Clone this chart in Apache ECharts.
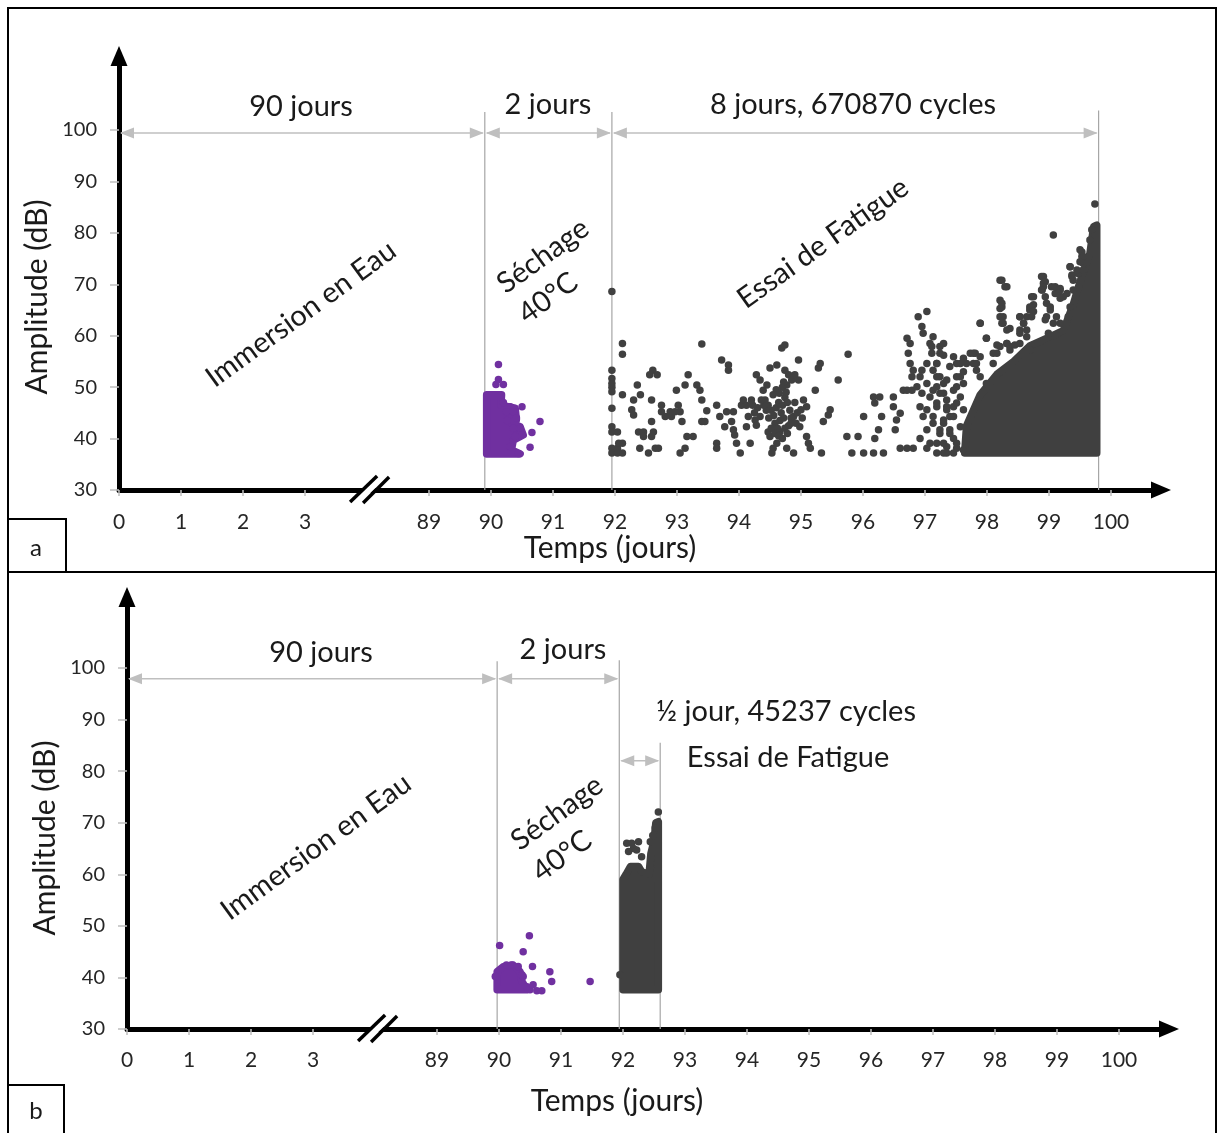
<!DOCTYPE html>
<html><head><meta charset="utf-8">
<script src="https://cdn.jsdelivr.net/npm/echarts@6/dist/echarts.min.js"></script>
<style>html,body{margin:0;padding:0;background:#fff}#c{width:1217px;height:1133px}</style>
</head><body><div id="c"></div>
<script>
// ---------- data ----------
const xTickDays = [0,1,2,3,89,90,91,92,93,94,95,96,97,98,99,100];
const yTicks = [30,40,50,60,70,80,90,100];

const aPhaseEnds = [89.9, 91.95, 99.8];
const aPhaseLabels = ['90 jours', '2 jours', '8 jours, 670870 cycles'];
const bPhaseEnds = [89.97, 91.94, 92.6];
const bPhaseLabels = ['90 jours', '2 jours', '½ jour, 45237 cycles'];

// panel a — drying (purple)
const aPurplePts = [[90.12,54.4],[90.12,51.5],[90.08,50.5],[90.2,50.5],[90.5,46.2],[90.31,46.2],[90.25,45.2],[90.36,45.2],[90.79,43.3],[90.47,42.0],[90.36,42.0],[90.66,41.2],[90.63,38.3],[90.44,37.1],[90.39,40.4],[90.31,38.4],[90.41,44.0],[90.26,43.5],[90.2,47.0]];
const aPurpleCore = [[89.93,37.0],[89.93,48.5],[90.17,48.5],[90.16,46.5],[90.39,45.9],[90.41,43.6],[90.31,43.1],[90.47,42.3],[90.52,40.7],[90.36,39.7],[90.33,37.8],[90.47,37.0]];

// panel a — fatigue (dark)
const aBlackPts = [
[91.95,68.6],[91.95,53.3],[91.95,51.7],[91.95,50.7],[91.95,50.0],[91.95,49.1],[91.95,45.9],[91.95,42.3],[91.95,41.3],[91.95,38.1],[91.95,37.2],
[92.04,41.3],[92.04,38.1],[92.04,37.2],[92.06,39.1],
[92.12,58.5],[92.12,56.4],[92.12,48.5],[92.12,39.1],[92.12,37.2],
[92.30,47.5],[92.36,50.4],[92.41,48.5],[92.27,45.6],[92.30,44.6],[92.38,41.3],[92.46,41.3],[92.40,38.1],[92.54,37.2],[92.46,40.4],[92.59,40.4],[92.62,41.3],[92.59,43.3],[92.59,47.5],[92.56,52.4],[92.61,53.3],[92.68,52.4],[92.70,38.1],[92.65,38.1],
[92.75,46.5],[92.75,45.2],[92.81,44.3],[92.89,45.2],[92.91,44.3],[92.97,45.2],[93.02,46.5],[93.05,45.2],[93.08,43.3],[92.99,49.4],[93.13,50.4],[93.18,52.4],[93.16,40.4],[93.26,40.4],[93.13,38.1],[93.05,37.2],[93.32,50.4],[93.37,49.4],[93.40,47.5],[93.40,58.4],[93.48,45.4],[93.40,43.3],[93.45,43.3],
[93.64,46.5],[93.64,39.1],[93.64,38.1],[93.72,55.3],[93.83,54.3],[93.83,53.3],[93.69,44.3],[93.80,45.2],[93.77,42.3],[93.88,43.3],[93.91,41.7],[93.93,40.7],[93.96,39.1],[94.02,37.2],[93.91,45.2],[94.04,46.5],[94.07,47.5],[94.12,46.5],[94.15,44.3],[94.12,42.3],[94.18,39.1],
[94.28,52.4],[94.34,51.4],[94.39,49.4],[94.45,50.4],[94.26,43.6],[94.28,42.6],[94.34,44.3],[94.50,53.7],[94.61,54.3],[94.69,57.6],[94.74,58.2],[94.74,53.3],[94.80,52.4],[94.85,51.4],[94.77,50.4],[94.96,55.3],[94.96,51.4],[94.90,52.4],[94.88,44.3],[94.98,42.3],[95.04,47.5],[95.09,46.2],[95.09,40.4],[95.12,39.1],[95.15,38.1],[95.23,49.4],[95.28,53.7],[95.31,54.6],[95.33,37.2],[95.36,43.3],[95.44,44.6],[95.47,45.6],[95.60,51.4],[95.74,40.4],[95.76,56.4],[95.82,37.2],[95.92,40.4],
[94.50,40.4],[94.55,38.1],[94.53,37.2],[94.61,39.1],[94.77,38.1],[94.88,37.2],[94.47,41.3],[94.66,41.3],
[94.42,47.5],[94.47,46.5],[94.52,45.5],[94.56,44.5],[94.60,46.0],[94.64,47.0],[94.68,45.0],[94.72,44.0],[94.58,43.0],[94.62,42.0],[94.66,43.5],[94.70,46.5],[94.74,48.0],[94.78,47.0],[94.82,45.5],[94.84,44.0],[94.80,42.5],[94.55,48.5],[94.60,49.5],[94.65,48.8],[94.70,50.0],[94.72,51.0],[94.76,49.0],[94.48,44.0],[94.44,45.5],[94.40,46.5],[94.36,47.5],[94.30,46.0],[94.22,46.5],[94.20,47.5],[94.25,45.0],[94.52,42.0],[94.58,41.0],[94.64,40.5],[94.70,40.0],[94.74,42.0],[94.78,41.0],[94.84,43.0],[94.90,47.0],[94.94,45.0],[94.92,43.0],[95.00,45.6],[95.02,44.0],
[96.01,44.3],[96.17,48.1],[96.27,48.1],[96.19,46.9],[96.30,44.3],[96.19,40.0],[96.25,41.7],[96.01,37.2],[96.17,37.2],[96.33,37.2],[96.49,48.1],[96.49,46.2],[96.60,44.9],[96.54,43.6],[96.52,41.7],[96.60,38.1],[96.71,38.1],[96.81,38.1],[96.65,49.4],[96.71,59.5],[96.76,58.5],[96.73,56.6],[96.76,54.6],[96.81,53.3],[96.79,52.0],[96.71,49.4],[96.79,49.4],[96.87,50.1],[96.92,52.0],[96.95,53.3],[96.89,63.7],[97.03,64.7],[96.95,61.8],[96.97,60.5],[97.08,58.5],[97.11,56.6],[97.24,57.9],[97.30,56.2],[97.03,54.6],[97.19,54.6],[97.13,53.3],[97.24,52.0],[97.03,50.7],[97.19,50.1],[97.30,50.7],[96.95,48.8],[97.08,48.1],[97.24,48.8],[97.35,47.5],[96.92,46.2],[97.03,45.6],[97.19,46.2],[97.35,45.6],[97.46,46.2],[96.97,44.3],[97.13,43.0],[97.30,43.0],[97.40,44.3],[97.03,41.7],[97.24,41.0],[97.40,41.7],[96.92,40.0],[97.08,39.1],[97.30,39.1],[97.46,40.0],[97.03,38.1],[97.19,37.2],[97.35,37.2],[97.51,38.1],[97.51,50.1],[97.57,52.0],[97.57,54.6],[97.62,55.6],[97.73,56.6],[97.78,54.6],[97.81,56.6],[97.89,62.4],[97.99,59.5],[97.83,53.3],[97.89,52.0],[97.99,50.7],[98.10,54.6],[98.16,56.6],[98.21,57.9],[98.32,58.5],[98.37,57.9],[98.21,66.9],[98.24,65.6],[98.21,63.7],[98.26,62.4],[98.32,61.1],[98.21,70.8],[98.29,69.5],[98.53,63.7],[98.59,62.4],[98.53,61.1],[98.64,63.7],[98.69,65.0],[98.72,67.6],[98.75,66.0],[98.88,71.5],[98.91,70.2],[98.88,68.9],[98.94,67.6],[99.04,69.5],[99.10,68.2],[99.18,68.9],[99.23,67.6],[99.07,79.6],[99.02,65.6],[98.96,63.7],[99.12,63.7],[99.18,62.4],[99.34,73.4],[99.37,71.8],[99.39,70.8],[99.50,76.7],[99.53,75.4],[99.55,74.1],[99.47,72.1],[99.66,78.6],[99.69,80.6],[99.74,85.6],
[99.53,76.3],[99.55,75.4],[99.50,74.4],[99.34,73.4],[99.45,72.8],[99.37,71.5],[99.55,72.8],
[98.91,71.5],[98.94,70.5],[98.91,69.5],[98.89,68.9],[99.10,69.5],[99.18,69.2],[99.15,68.2],[99.18,67.3],
[98.75,67.6],[98.69,65.6],[98.75,64.7],[98.72,63.7],[98.24,70.8],[98.32,69.5],
[98.24,66.3],[98.21,65.3],[98.26,63.7],[98.24,62.4],[98.37,61.4],[97.89,62.4],[97.99,59.5],
[98.53,63.7],[98.59,62.4],[98.64,61.1],[98.53,60.5],
[98.96,66.3],[99.02,65.0],[98.94,63.1],[99.07,62.4],[98.99,60.5],
[99.29,68.2],[99.34,65.6],[99.31,63.7],[99.39,68.9],
[97.78,56.6],[97.83,54.6],[97.67,54.6],[97.62,53.0],[97.89,55.9],[98.10,56.6],[98.16,58.2],[98.32,58.5],[98.37,57.2],[98.45,58.2],[98.53,58.5],[98.64,59.8],[98.69,57.2],
[97.30,58.5],[97.13,59.8],[97.11,57.9],[97.24,56.6],[97.46,55.9],[97.51,54.6],[97.40,54.0],[97.19,54.6],
[97.19,52.0],[97.35,51.4],[97.51,52.0],[97.62,50.7],[97.13,49.4],[97.30,48.8],[97.46,49.4],[97.57,48.1],[97.19,46.9],[97.35,46.2],[97.51,46.9],[97.13,44.3],[97.30,43.6],[97.46,44.3],[97.62,45.6],[97.24,41.7],[97.40,41.0],[97.57,42.3],[97.19,39.1],[97.35,38.4],[97.51,39.1],[97.30,37.2],[97.46,37.2],[97.62,37.8]
];
const aBlackCore = [[97.64,37.2],[97.67,42.5],[97.89,48.5],[98.16,52.5],[98.43,55.0],[98.69,58.0],[98.96,59.5],[99.23,61.0],[99.39,66.0],[99.50,70.5],[99.66,76.0],[99.72,81.2],[99.77,81.5],[99.77,37.2]];

// panel b
const bPurplePts = [[90.49,48.1],[90.01,46.2],[90.39,45.0],[90.54,42.1],[90.82,41.1],[90.85,39.2],[90.39,40.2],[91.47,39.2],[90.31,42.1],[90.12,42.4],[90.2,42.4],[89.94,40.2],[90.5,37.6],[90.61,37.4],[90.69,37.4],[90.37,40.5],[90.45,38.2],[90.55,38.6]];
const bPurpleCore = [[89.97,37.6],[89.97,41.1],[90.07,42.1],[90.23,42.4],[90.34,41.1],[90.37,39.2],[90.45,37.6]];
const bBlackPts = [[92.57,72.1],[92.06,66.0],[92.17,65.0],[92.25,66.3],[92.22,64.7],[92.44,66.3],[92.09,64.4],[92.14,66.0],[92.30,63.4],[91.95,40.5],[92.48,67.5],[92.52,69.0]];
const bBlackCore = [[92.0,37.6],[92.0,59.0],[92.05,60.0],[92.12,61.5],[92.25,61.5],[92.30,60.5],[92.42,60.0],[92.45,64.0],[92.50,66.5],[92.53,70.0],[92.57,70.2],[92.57,37.6]];

// ---------- helpers ----------
const FONT = 'Lato';
const PURPLE = '#7030a0', DARK = '#404040', GREY = '#bfbfbf', VGREY = '#a6a6a6';
function dayPos(d) { return d <= 3.5 ? d : d - 84; }   // broken time axis
const BREAK_POS = 4.05;
const xTickPos = xTickDays.map(dayPos);
function xLabel(v) {
  const i = xTickPos.findIndex(p => Math.abs(p - v) < 1e-6);
  return i < 0 ? '' : String(xTickDays[i]);
}
const toPos = pts => pts.map(p => [dayPos(p[0]), p[1]]);

function makeX(gi, margin) {
  return {
    type: 'value', gridIndex: gi, min: 0, max: 1042 / 62,
    axisLine: { show: true, onZero: false, lineStyle: { color: '#000', width: 5 }, symbol: ['none', 'triangle'], symbolSize: [17, 20] },
    axisTick: { show: true, customValues: xTickPos, length: 6, lineStyle: { color: GREY, width: 1.5 } },
    axisLabel: { customValues: xTickPos, formatter: xLabel, margin: margin, fontSize: 21, fontFamily: FONT, color: '#262626' },
    splitLine: { show: false }
  };
}
function makeY(gi, max) {
  return {
    type: 'value', gridIndex: gi, min: 30, max: max,
    axisLine: { show: true, onZero: false, lineStyle: { color: '#000', width: 5 }, symbol: ['none', 'triangle'], symbolSize: [17, 20] },
    axisTick: { show: true, customValues: yTicks, length: 9, lineStyle: { color: GREY, width: 1.5 } },
    axisLabel: { customValues: yTicks, margin: 22, fontSize: 20, fontFamily: FONT, color: '#262626' },
    splitLine: { show: false }
  };
}
function scatter(pts, color, gi) {
  return { type: 'scatter', xAxisIndex: gi, yAxisIndex: gi, data: toPos(pts), symbolSize: 7.5,
    itemStyle: { color: color, opacity: 1 }, silent: true, z: 3 };
}
function core(pts, color, gi) {
  return { type: 'custom', xAxisIndex: gi, yAxisIndex: gi, clip: false, silent: true, z: 3,
    data: [toPos(pts)[0]],
    renderItem: function (params, api) {
      return { type: 'polygon', shape: { points: toPos(pts).map(p => api.coord(p)) },
        style: { fill: color, stroke: color, lineWidth: 7.5, lineJoin: 'round' } };
    } };
}

const chart = echarts.init(document.getElementById('c'), null, { renderer: 'canvas' });
chart.setOption({
  animation: false,
  backgroundColor: '#fff',
  grid: [
    { left: 119, top: 56, width: 1042, height: 434 },
    { left: 127, top: 597, width: 1042, height: 432 }
  ],
  xAxis: [makeX(0, 22), makeX(1, 21)],
  yAxis: [makeY(0, 30 + 434 / (360 / 70)), makeY(1, 30 + 432 / (361 / 70))],
  series: [
    core(aPurpleCore, PURPLE, 0), scatter(aPurplePts, PURPLE, 0),
    core(aBlackCore, DARK, 0), scatter(aBlackPts, DARK, 0),
    core(bPurpleCore, PURPLE, 1), scatter(bPurplePts, PURPLE, 1),
    core(bBlackCore, DARK, 1), scatter(bBlackPts, DARK, 1)
  ]
});

// ---------- annotations ----------
const G = [];
const px = (gi, d, a) => chart.convertToPixel({ gridIndex: gi }, [dayPos(d), a]);
function vline(gi, d, top) {
  const p1 = px(gi, d, top), p2 = px(gi, d, 30);
  G.push({ type: 'line', z: 1, shape: { x1: p1[0], y1: p1[1], x2: p2[0], y2: p2[1] }, style: { stroke: VGREY, lineWidth: 1.2 } });
}
function darrow(gi, d1, d2, amp) {
  const a = px(gi, d1, amp), b = px(gi, d2, amp);
  const L = 14, W = 5.5;
  G.push({ type: 'line', z: 1, shape: { x1: a[0] + 2, y1: a[1], x2: b[0] - 2, y2: b[1] }, style: { stroke: GREY, lineWidth: 1.5 } });
  G.push({ type: 'polygon', z: 1, shape: { points: [[a[0] + 1, a[1]], [a[0] + 1 + L, a[1] - W], [a[0] + 1 + L, a[1] + W]] }, style: { fill: GREY } });
  G.push({ type: 'polygon', z: 1, shape: { points: [[b[0] - 1, b[1]], [b[0] - 1 - L, b[1] - W], [b[0] - 1 - L, b[1] + W]] }, style: { fill: GREY } });
}
function txt(x, y, s, size, rotDeg) {
  G.push({ type: 'text', z: 5, x: x, y: y, rotation: (rotDeg || 0) * Math.PI / 180,
    style: { text: s, font: size + 'px ' + FONT, fill: '#1a1a1a', textAlign: 'center', textVerticalAlign: 'middle' } });
}
function brk(gi) {
  const c = chart.convertToPixel({ gridIndex: gi }, [BREAK_POS, 30]);
  const x = c[0], y = c[1];
  G.push({ type: 'polygon', z: 50, shape: { points: [[x - 16, y + 8], [x + 6, y - 12], [x + 16, y - 12], [x - 5, y + 8]] }, style: { fill: '#fff' } });
  G.push({ type: 'line', z: 51, shape: { x1: x - 20, y1: y + 12, x2: x + 7, y2: y - 14 }, style: { stroke: '#000', lineWidth: 3.5 } });
  G.push({ type: 'line', z: 51, shape: { x1: x - 7, y1: y + 13, x2: x + 19, y2: y - 13 }, style: { stroke: '#000', lineWidth: 3.5 } });
}

// panel a
[103.5, 103.5, 103.8].forEach((t, i) => vline(0, aPhaseEnds[i], t));
darrow(0, 0, aPhaseEnds[0], 99.4);
darrow(0, aPhaseEnds[0], aPhaseEnds[1], 99.4);
darrow(0, aPhaseEnds[1], aPhaseEnds[2], 99.4);
txt(301, 107, aPhaseLabels[0], 29);
txt(548, 105, aPhaseLabels[1], 29);
txt(853, 105, aPhaseLabels[2], 29);
txt(301, 314, 'Immersion en Eau', 29, 36);
txt(543, 256, 'Séchage', 29, 36);
txt(548, 298, '40°C', 29, 36);
txt(823, 243, 'Essai de Fatigue', 29, 35.5);
txt(37, 297, 'Amplitude (dB)', 30, 90);
txt(610, 548, 'Temps (jours)', 30);
brk(0);

// panel b
[101.3, 101.5, 85.5].forEach((t, i) => vline(1, bPhaseEnds[i], t));
darrow(1, 0, bPhaseEnds[0], 97.9);
darrow(1, bPhaseEnds[0], bPhaseEnds[1], 97.9);
darrow(1, bPhaseEnds[1], bPhaseEnds[2], 82.0);
txt(321, 653, bPhaseLabels[0], 29);
txt(563, 650, bPhaseLabels[1], 29);
txt(786, 712, bPhaseLabels[2], 29);
txt(788, 758, 'Essai de Fatigue', 29);
txt(316, 847, 'Immersion en Eau', 29, 36);
txt(557, 813, 'Séchage', 29, 36);
txt(562, 856, '40°C', 29, 36);
txt(45, 838, 'Amplitude (dB)', 30, 90);
txt(617, 1101, 'Temps (jours)', 30);
brk(1);

// frame and panel tags
G.push({ type: 'rect', z: 60, shape: { x: 8, y: 8, width: 1208, height: 1140 }, style: { fill: 'none', stroke: '#000', lineWidth: 2 } });
G.push({ type: 'line', z: 60, shape: { x1: 8, y1: 572, x2: 1216, y2: 572 }, style: { stroke: '#000', lineWidth: 2 } });
G.push({ type: 'rect', z: 60, shape: { x: 8, y: 519, width: 58, height: 53 }, style: { fill: 'none', stroke: '#000', lineWidth: 2 } });
G.push({ type: 'rect', z: 60, shape: { x: 8, y: 1085, width: 56, height: 60 }, style: { fill: 'none', stroke: '#000', lineWidth: 2 } });
txt(36, 548, 'a', 24);
txt(36, 1111, 'b', 24);

chart.setOption({ graphic: G });
</script>
</body></html>
